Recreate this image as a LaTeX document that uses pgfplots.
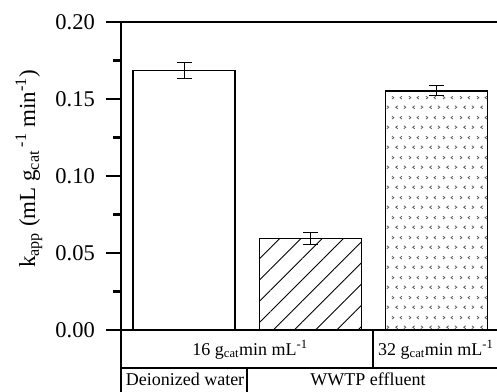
\documentclass[border=0pt]{standalone}
\usepackage{pgfplots}
\pgfplotsset{compat=1.18}
\usepackage{fontspec}
\setmainfont{Liberation Serif}
\usetikzlibrary{patterns,patterns.meta}

\pgfdeclarepatternformonly{chev}{\pgfpointorigin}{\pgfpoint{17pt}{20pt}}{\pgfpoint{17pt}{20pt}}{%
  \pgfsetlinewidth{0.8pt}%
  \pgfpathmoveto{\pgfpoint{1pt}{16.5pt}}\pgfpathlineto{\pgfpoint{3pt}{15pt}}\pgfpathlineto{\pgfpoint{1pt}{13.5pt}}%
  \pgfpathmoveto{\pgfpoint{11.5pt}{16.5pt}}\pgfpathlineto{\pgfpoint{9.5pt}{15pt}}\pgfpathlineto{\pgfpoint{11.5pt}{13.5pt}}%
  \pgfpathmoveto{\pgfpoint{7pt}{6.5pt}}\pgfpathlineto{\pgfpoint{5pt}{5pt}}\pgfpathlineto{\pgfpoint{7pt}{3.5pt}}%
  \pgfpathmoveto{\pgfpoint{13.5pt}{6.5pt}}\pgfpathlineto{\pgfpoint{15.5pt}{5pt}}\pgfpathlineto{\pgfpoint{13.5pt}{3.5pt}}%
  \pgfusepath{stroke}%
}

\pgfplotstableread{
x y err
0 0.1685 0.0052
}\tabA
\pgfplotstableread{
x y err
1 0.0595 0.0041
}\tabB
\pgfplotstableread{
x y err
2 0.1553 0.0032
}\tabC

\begin{document}
\begin{tikzpicture}
\useasboundingbox (0,0) rectangle (497pt,391pt);
\begin{axis}[
  at={(121pt,61pt)}, anchor=south west,
  scale only axis,
  width=378.6pt, height=308pt,
  xmin=-0.5, xmax=2.5,
  ymin=0, ymax=0.2,
  xtick=\empty,
  ytick={0,0.05,0.10,0.15,0.20},
  minor y tick num=1,
  ytick pos=left,
  tick align=outside,
  major tick length=15pt,
  minor tick length=8pt,
  every tick/.style={line width=2.8pt, black},
  axis line style={line width=2.8pt},
  /pgf/number format/assume math mode=true,
  yticklabel={\pgfmathprintnumber[fixed,fixed zerofill,precision=2]{\tick}},
  yticklabel style={font=\fontsize{22.5}{25}\selectfont, inner sep=0pt, xshift=-11pt},
  ybar, bar width=102pt, bar shift=0pt,
  clip=false,
]
\addplot[fill=white, draw=black, line width=1.5pt,
  error bars/.cd, y dir=both, y explicit,
  error bar style={line width=1pt, black},
  error mark options={rotate=90, mark size=7.5pt, line width=1pt}]
  table[x=x, y=y, y error=err]{\tabA};
\addplot[pattern={Lines[angle=45, distance=15pt, line width=0.9pt]}, pattern color=black, draw=black, line width=1.5pt,
  error bars/.cd, y dir=both, y explicit,
  error bar style={line width=1pt, black},
  error mark options={rotate=90, mark size=7.5pt, line width=1pt}]
  table[x=x, y=y, y error=err]{\tabB};
\addplot[pattern=chev, pattern color=black!65, draw=black, line width=1.5pt,
  error bars/.cd, y dir=both, y explicit,
  error bar style={line width=1pt, black},
  error mark options={rotate=90, mark size=7.5pt, line width=1pt}]
  table[x=x, y=y, y error=err]{\tabC};
\end{axis}
% category table below the axis
\draw[line width=2.2pt] (121pt,23pt) -- (505pt,23pt);
\draw[line width=2.2pt] (121pt,61pt) -- (121pt,-5pt);
\draw[line width=2.2pt] (373pt,61pt) -- (373pt,23pt);
\draw[line width=2.2pt] (247pt,23pt) -- (247pt,-5pt);
\node[anchor=base, inner sep=0pt, font=\fontsize{18}{21}\selectfont] at (250pt,36pt)
  {16 g\textsubscript{cat}min mL\textsuperscript{-1}};
\node[anchor=base west, inner sep=0pt, font=\fontsize{18}{21}\selectfont] at (378pt,36pt)
  {32 g\textsubscript{cat}min mL\textsuperscript{-1}};
\node[anchor=base, inner sep=0pt, font=\fontsize{18}{21}\selectfont] at (185pt,6pt)
  {Deionized water};
\node[anchor=base, inner sep=0pt, font=\fontsize{18}{21}\selectfont] at (368pt,6pt)
  {WWTP effluent};
\node[rotate=90, inner sep=0pt, font=\fontsize{23}{27}\selectfont] at (29pt,222pt)
  {k\textsubscript{app} (mL g\textsubscript{cat}\,\textsuperscript{-1} min\textsuperscript{-1})};
\end{tikzpicture}
\end{document}
